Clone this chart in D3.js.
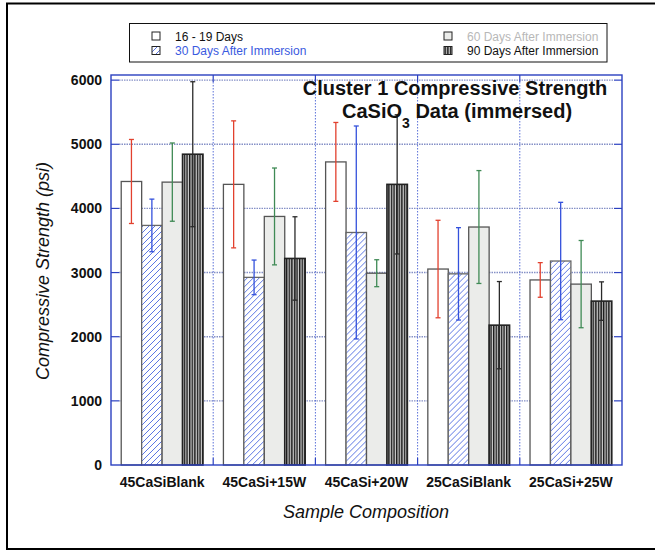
<!DOCTYPE html>
<html>
<head>
<meta charset="utf-8">
<script src="https://cdn.jsdelivr.net/npm/d3@7"></script>
<style>
  body { margin: 0; background: #fff; }
  svg { display: block; font-family: "Liberation Sans", Arial, Helvetica, sans-serif; }
</style>
</head>
<body>
<svg id="chart" width="655" height="552"></svg>
<script>
// Sample compositions (x categories)
const groups = ["45CaSiBlank", "45CaSi+15W", "45CaSi+20W", "25CaSiBlank", "25CaSi+25W"];

// Series names (legend order)
const seriesNames = ["16 - 19 Days", "30 Days After Immersion", "60 Days After Immersion", "90 Days After Immersion"];

// Mean compressive strength (psi) per composition
const days16 = [4420, 4375, 4725, 3055, 2885];
const days30 = [3735, 2925, 3625, 2980, 3180];
const days60 = [4410, 3875, 2990, 3710, 2820];
const days90 = [4845, 3220, 4375, 2180, 2555];

// Standard deviation (psi) per composition
const err16 = [655, 990, 615, 760, 270];
const err30 = [410, 270, 1660, 720, 915];
const err60 = [610, 755, 210, 880, 680];
const err90 = [1130, 650, 1085, 680, 300];

// Y axis tick values
const yTicks = [0, 1000, 2000, 3000, 4000, 5000, 6000];

const values = [days16, days30, days60, days90];
const errors = [err16, err30, err60, err90];

const svg = d3.select("#chart");

const plot = { left: 111, right: 622, top: 75, bottom: 465 };

const x0 = d3.scaleBand().domain(groups).range([plot.left, plot.right]).padding(0);
const bw = x0.bandwidth();
const x1 = d3.scaleBand().domain(d3.range(seriesNames.length))
  .range([bw * 0.1, bw * 0.9]).padding(0);
const y = d3.scaleLinear().domain([0, 6080]).range([plot.bottom, plot.top]);

// ---- fill patterns ----
const defs = svg.append("defs");
const hatch = defs.append("pattern").attr("id", "hatch")
  .attr("patternUnits", "userSpaceOnUse").attr("width", 6).attr("height", 6);
hatch.append("rect").attr("width", 6).attr("height", 6).attr("fill", "#fff");
hatch.append("path").attr("d", "M-1,1 L1,-1 M0,6 L6,0 M5,7 L7,5")
  .attr("stroke", "#4a68e0").attr("stroke-width", 0.9);

const stripes = defs.append("pattern").attr("id", "stripes")
  .attr("patternUnits", "userSpaceOnUse").attr("width", 2.6).attr("height", 10);
stripes.append("rect").attr("width", 2.6).attr("height", 10).attr("fill", "#cfcfcf");
stripes.append("rect").attr("width", 1.4).attr("height", 10).attr("fill", "#1a1a1a");

const fills = ["#ffffff", "url(#hatch)", "#ebecea", "url(#stripes)"];
const outlines = ["#555", "#666", "#555", "#222"];
const errColors = ["#e2412e", "#3451dc", "#3f8a55", "#2a2a2a"];

// ---- outer frame ----
svg.append("rect").attr("x", 7).attr("y", 3.5).attr("width", 700).attr("height", 545.5)
  .attr("fill", "none").attr("stroke", "#000").attr("stroke-width", 2);

// ---- grid ----
const hGridColor = "#8590c6";
const vGridColor = "#5a70d8";
const axisColor = "#2b40c0";
const grid = svg.append("g");
yTicks.filter(t => t > 0).forEach(t => {
  grid.append("line").attr("x1", plot.left + 8).attr("x2", plot.right - 8)
    .attr("y1", y(t)).attr("y2", y(t))
    .attr("stroke", hGridColor).attr("stroke-width", 1.4).attr("stroke-dasharray", "1.5,1");
  [[plot.left, plot.left + 8], [plot.right - 8, plot.right]].forEach(([a, b]) => {
    grid.append("line").attr("x1", a).attr("x2", b).attr("y1", y(t)).attr("y2", y(t))
      .attr("stroke", axisColor).attr("stroke-width", 1.2);
  });
});
groups.slice(1).forEach(g => {
  const gx = x0(g);
  grid.append("line").attr("x1", gx).attr("x2", gx).attr("y1", plot.top + 7).attr("y2", plot.bottom - 7)
    .attr("stroke", vGridColor).attr("stroke-width", 1).attr("stroke-dasharray", "1.5,1.5");
  [[plot.top, plot.top + 7], [plot.bottom - 7, plot.bottom]].forEach(([a, b]) => {
    grid.append("line").attr("x1", gx).attr("x2", gx).attr("y1", a).attr("y2", b)
      .attr("stroke", axisColor).attr("stroke-width", 1.2);
  });
});

// ---- bars ----
const gGroups = svg.append("g").selectAll("g").data(groups).join("g")
  .attr("transform", g => `translate(${x0(g)},0)`);

gGroups.each(function (g, gi) {
  const sel = d3.select(this);
  values.forEach((vals, si) => {
    sel.append("rect")
      .attr("x", x1(si)).attr("width", x1.bandwidth())
      .attr("y", y(vals[gi])).attr("height", y(0) - y(vals[gi]))
      .attr("fill", fills[si]).attr("stroke", outlines[si]).attr("stroke-width", si === 3 ? 1.6 : 1.3);
  });
});

// ---- error bars ----
gGroups.each(function (g, gi) {
  const sel = d3.select(this);
  values.forEach((vals, si) => {
    const cx = x1(si) + x1.bandwidth() / 2;
    const hi = vals[gi] + errors[si][gi];
    const lo = vals[gi] - errors[si][gi];
    const c = errColors[si];
    sel.append("line").attr("x1", cx).attr("x2", cx).attr("y1", y(hi)).attr("y2", y(lo))
      .attr("stroke", c).attr("stroke-width", 1.3);
    [hi, lo].forEach(v => {
      sel.append("line").attr("x1", cx - 2.5).attr("x2", cx + 2.5).attr("y1", y(v)).attr("y2", y(v))
        .attr("stroke", c).attr("stroke-width", 1.3);
    });
  });
});

// ---- plot frame ----
svg.append("rect").attr("x", plot.left).attr("y", plot.top)
  .attr("width", plot.right - plot.left).attr("height", plot.bottom - plot.top)
  .attr("fill", "none").attr("stroke", axisColor).attr("stroke-width", 1.4);

// ---- axes labels ----
const yAxis = d3.axisLeft(y).tickValues(yTicks).tickSize(0).tickPadding(9).tickFormat(d3.format("d"));
const yg = svg.append("g").attr("transform", `translate(${plot.left},0)`).call(yAxis);
yg.select(".domain").remove();
yg.selectAll("text").attr("font-size", 14).attr("font-weight", "bold").attr("fill", "#111")
  .attr("font-family", "Liberation Sans, Arial, sans-serif");

const xAxis = d3.axisBottom(x0).tickSize(0).tickPadding(12);
const xg = svg.append("g").attr("transform", `translate(0,${plot.bottom})`).call(xAxis);
xg.select(".domain").remove();
xg.selectAll("text").attr("font-size", 14).attr("font-weight", "bold").attr("fill", "#111")
  .attr("font-family", "Liberation Sans, Arial, sans-serif");

svg.append("text").attr("transform", "translate(48.5,271) rotate(-90)")
  .attr("text-anchor", "middle").attr("font-size", 18).attr("font-style", "italic").attr("fill", "#111")
  .text("Compressive Strength (psi)");

svg.append("text").attr("x", 366).attr("y", 518)
  .attr("text-anchor", "middle").attr("font-size", 18).attr("font-style", "italic").attr("fill", "#111")
  .text("Sample Composition");

// ---- title ----
svg.append("text").attr("x", 455).attr("y", 95).attr("text-anchor", "middle")
  .attr("font-size", 20).attr("font-weight", "bold").attr("fill", "#111")
  .text("Cluster 1 Compressive Strength");
const t2 = svg.append("text").attr("x", 342).attr("y", 118)
  .attr("font-size", 20).attr("font-weight", "bold").attr("fill", "#111");
t2.append("tspan").text("CaSiO");
t2.append("tspan").attr("font-size", 14).attr("dy", 10).text("3");
t2.append("tspan").attr("dy", -10).text(" Data (immersed)");

// ---- legend ----
const legend = svg.append("g");
legend.append("rect").attr("x", 129.5).attr("y", 23.5).attr("width", 477.5).attr("height", 38.5)
  .attr("fill", "#fff").attr("stroke", "#111").attr("stroke-width", 1);
const legendPos = [[152, 32], [152, 46.5], [444, 32], [444, 46.5]];
const legendText = ["#111", "#3a5ae0", "#b8b8b8", "#111"];
seriesNames.forEach((name, i) => {
  const [lx, ly] = legendPos[i];
  legend.append("rect").attr("x", lx).attr("y", ly).attr("width", 8).attr("height", 8)
    .attr("fill", fills[i]).attr("stroke", "#222").attr("stroke-width", 1);
  legend.append("text").attr("x", lx + 23).attr("y", ly + 8.5)
    .attr("font-size", 12).attr("fill", legendText[i]).text(name);
});
</script>
</body>
</html>
